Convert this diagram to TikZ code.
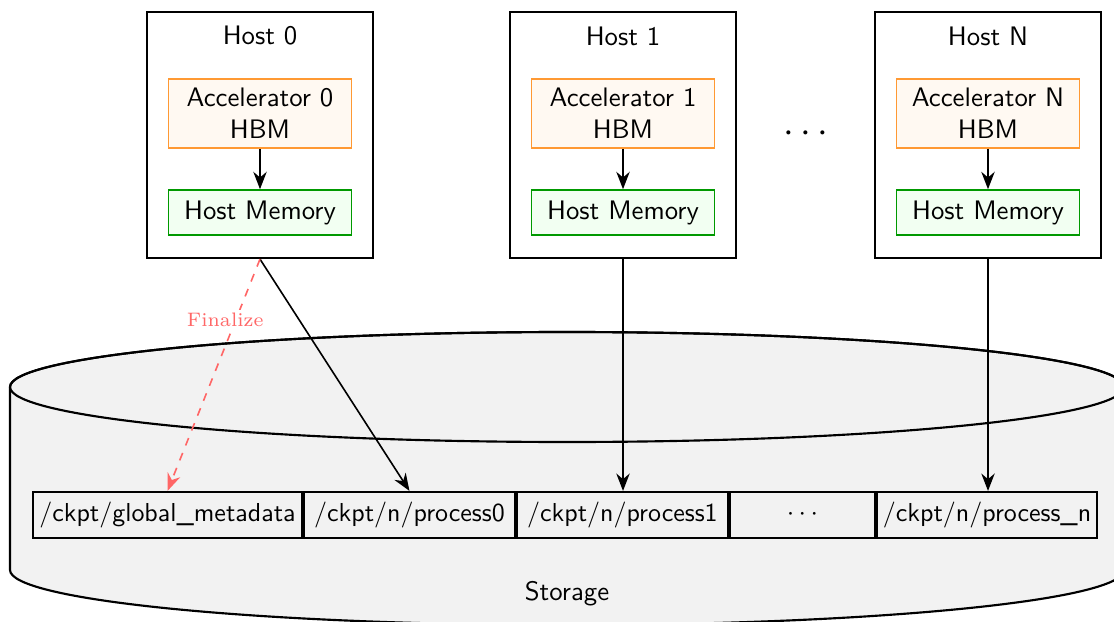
\documentclass[tikz,border=0pt]{standalone}
\usepackage{tikz}
\usetikzlibrary{arrows.meta,positioning}
\tikzset{
	hostbox/.style={draw, thick, minimum width=84.5pt, minimum height=92pt},
	accbox/.style={draw=orange!80, fill=orange!5, semithick, align=center, minimum width=68.4pt, minimum height=25.8pt, inner sep=1pt},
	membox/.style={draw=green!60!black, fill=green!5, semithick, minimum width=68.4pt, minimum height=16.8pt},
	filebox/.style={draw, thick, minimum height=17.2pt, inner xsep=1pt, inner ysep=1.5pt, font=\sffamily\fontsize{9.7pt}{12pt}\selectfont},
	flow/.style={-{Stealth[length=6.5pt, width=5pt]}, semithick},
}

\begin{document}
\begin{tikzpicture}[x=0.013139cm, y=-0.013139cm, font=\sffamily]
		%%%%% START %%%%%
		\useasboundingbox (0,0) rectangle (1114,622);
		
		% storage drum
		\draw[thick, fill=gray!10] (10,387) -- (10,570) arc[start angle=180, end angle=0, x radius=557, y radius=55] -- (1124,387) arc[start angle=0, end angle=-180, x radius=557, y radius=55] -- cycle;
		\draw[thick] (567,387) ellipse [x radius=557, y radius=55];
		\node (stor) at (567,594) {Storage};
		
		% hosts
		\node[hostbox] (h0) at (260,135) {};
		\node (h0lbl) at (260,36) {Host 0};
		\node[accbox] (a0) at (260,113.5) {Accelerator 0\\HBM};
		\node[membox] (m0) at (260,212.5) {Host Memory};
		
		\node[hostbox] (h1) at (623,135) {};
		\node (h1lbl) at (623,36) {Host 1};
		\node[accbox] (a1) at (623,113.5) {Accelerator 1\\HBM};
		\node[membox] (m1) at (623,212.5) {Host Memory};
		
		\node (hdots) at (806,134) {\Large$\cdots$};
		
		\node[hostbox] (hN) at (988,135) {};
		\node (hNlbl) at (988,36) {Host N};
		\node[accbox] (aN) at (988,113.5) {Accelerator N\\HBM};
		\node[membox] (mN) at (988,212.5) {Host Memory};
		
		\draw[flow] (a0) -- (m0);
		\draw[flow] (a1) -- (m1);
		\draw[flow] (aN) -- (mN);
		
		% files
		\node[filebox, minimum width=100.5pt] (gm) at (167.5,515) {/ckpt/global\_metadata};
		\node[filebox, minimum width=78.8pt, right=0pt of gm] (p0) {/ckpt/n/process0};
		\node[filebox, minimum width=78.8pt, right=0pt of p0] (p1) {/ckpt/n/process1};
		\node[filebox, minimum width=54.2pt, right=0pt of p1] (pdots) {$\cdots$};
		\node[filebox, minimum width=82.2pt, right=0pt of pdots] (pn) {/ckpt/n/process\_n};
		
		\draw[flow] (h0.south) -- (p0.north);
		\draw[flow] (h1.south) -- (h1.south |- p1.north);
		\draw[flow] (hN.south) -- (hN.south |- pn.north);
		\draw[flow, dashed, red!60] (h0.south) -- node[pos=0.26, xshift=-4pt, fill=white, inner sep=1pt, font=\rmfamily\fontsize{7.3pt}{9pt}\selectfont, text=red!60] (fin) {Finalize} (gm.north);
		
		%%%%% END %%%%%
	\end{tikzpicture}
\end{document}
